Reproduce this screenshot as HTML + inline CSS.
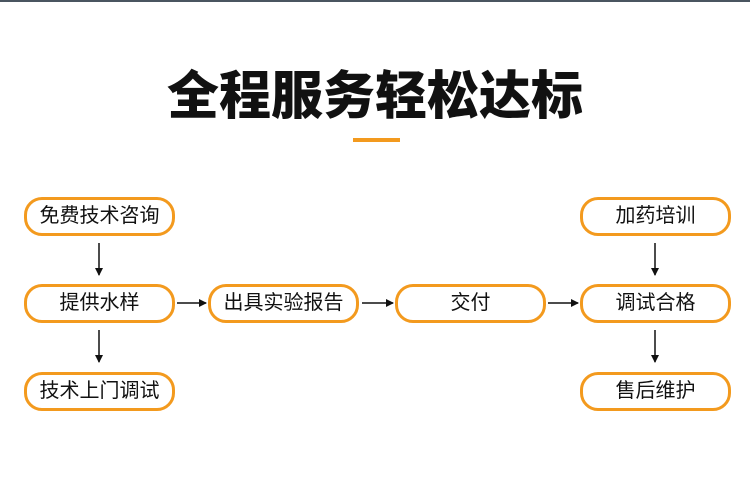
<!DOCTYPE html>
<html><head><meta charset="utf-8"><style>
body{margin:0;width:750px;height:488px;background:#fff;position:relative;overflow:hidden;font-family:"Liberation Sans","Noto Sans CJK SC",sans-serif}
.t{position:absolute;left:0;width:750px;top:62px;text-align:center;font-size:52px;font-weight:900;color:#111;line-height:70px;letter-spacing:0px}
.u{position:absolute;left:353px;top:138px;width:47px;height:4px;background:#f39a1e}
.b{position:absolute;box-sizing:border-box;width:151px;height:39px;border:3px solid #f39a1e;border-radius:18px;text-align:center;line-height:33px;font-size:20px;color:#111}
.top{position:absolute;left:0;top:0;width:750px;height:2px;background:#4a5560}
</style></head><body>
<div class="top"></div>
<div class="t">全程服务轻松达标</div>
<div class="u"></div>
<div class="b" style="left:24px;top:197px">免费技术咨询</div>
<div class="b" style="left:24px;top:284px">提供水样</div>
<div class="b" style="left:24px;top:372px">技术上门调试</div>
<div class="b" style="left:208px;top:284px">出具实验报告</div>
<div class="b" style="left:395px;top:284px">交付</div>
<div class="b" style="left:580px;top:197px">加药培训</div>
<div class="b" style="left:580px;top:284px">调试合格</div>
<div class="b" style="left:580px;top:372px">售后维护</div>
<svg width="750" height="488" style="position:absolute;left:0;top:0">
<defs><marker id="a" markerWidth="8" markerHeight="8" refX="7" refY="4" orient="auto" markerUnits="userSpaceOnUse"><path d="M0,0 L8,4 L0,8 Z" fill="#111"/></marker></defs>
<g stroke="#111" stroke-width="1.5" marker-end="url(#a)">
<line x1="99" y1="243" x2="99" y2="275"/>
<line x1="99" y1="330" x2="99" y2="362"/>
<line x1="655" y1="243" x2="655" y2="275"/>
<line x1="655" y1="330" x2="655" y2="362"/>
<line x1="177" y1="303" x2="206" y2="303"/>
<line x1="362" y1="303" x2="393" y2="303"/>
<line x1="548" y1="303" x2="578" y2="303"/>
</g></svg>
</body></html>
